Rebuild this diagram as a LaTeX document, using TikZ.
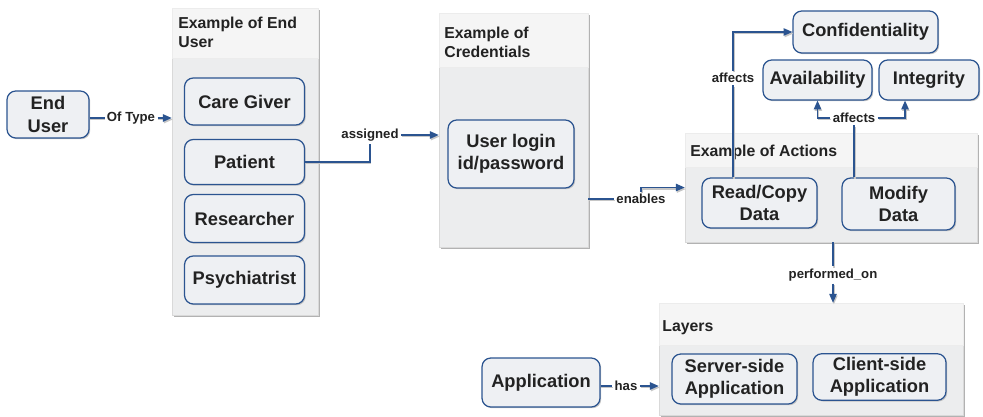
\documentclass[tikz,border=0pt]{standalone}
\usepackage{fontspec}
\setmainfont{Liberation Sans}
\usetikzlibrary{arrows.meta, positioning, fit, shadows, calc}

\definecolor{linkblue}{HTML}{2B5490}
\definecolor{boxfill}{HTML}{EEF0F3}
\definecolor{grpfill}{HTML}{ECEDEE}
\definecolor{headfill}{HTML}{F5F5F5}
\definecolor{textdark}{HTML}{222222}

\newcommand{\nodefont}{\fontsize{10.4}{12.8}\selectfont\bfseries}
\newcommand{\grpheadfont}{\fontsize{9}{10.8}\selectfont\bfseries}
\newcommand{\lblfont}{\fontsize{7.5}{9}\selectfont\bfseries}

\begin{document}
\begin{tikzpicture}[x=0.02cm, y=-0.02cm,
  box/.style={draw=linkblue, line width=0.7pt, rounded corners=5pt, fill=boxfill,
              align=center, font=\nodefont, text=textdark, inner sep=2pt,
              drop shadow={shadow xshift=0.7pt, shadow yshift=-0.7pt, fill=gray!55, opacity=0.8}},
  grp/.style={fill=grpfill, draw=gray!30, line width=0.3pt, inner sep=0pt,
              drop shadow={shadow xshift=1.2pt, shadow yshift=-1.2pt, fill=gray!60, opacity=1}},
  grphead/.style={fill=headfill, draw=gray!15, line width=0.3pt, inner sep=0pt},
  headtxt/.style={anchor=north west, align=left, inner sep=0pt, font=\grpheadfont, text=textdark},
  lbl/.style={fill=white, inner sep=1.2pt, font=\lblfont, text=textdark},
  link/.style={draw=linkblue, line width=0.7pt,
               preaction={draw=gray!45, line width=0.7pt, transform canvas={shift={(0.5pt,-0.9pt)}}}},
  arr/.style={-{Triangle[length=5pt, width=4.2pt]}},
]
  \useasboundingbox (0,0) rectangle (983,416);

  % groups
  \node[grp, fit={(172,8) (318,315)}] (gend) {};
  \node[grphead, fit={(172,8) (318,58)}] (gendhd) {};
  \node[headtxt] (gendtxt) at (178,17) {Example of End\\User};

  \node[grp, fit={(439,13) (588,247)}] (gcred) {};
  \node[grphead, fit={(439,13) (588,67)}] (gcredhd) {};
  \node[headtxt] (gcredtxt) at (444,27) {Example of\\Credentials};

  \node[grp, fit={(685,133) (977,242)}] (gact) {};
  \node[grphead, fit={(685,133) (977,167)}] (gacthd) {};
  \node[headtxt] (gacttxt) at (690,145) {Example of Actions};

  \node[grp, fit={(659,303) (963,415)}] (glay) {};
  \node[grphead, fit={(659,303) (963,345)}] (glayhd) {};
  \node[headtxt] (glaytxt) at (662,320) {Layers};

  % boxes
  \node[box, minimum width=1.64cm, minimum height=0.94cm] (enduser) at (48,114.5) {End\\User};
  \node[box, minimum width=2.4cm, minimum height=0.94cm] (care) at (244.5,101.5) {Care Giver};
  \node[box, minimum width=2.4cm, minimum height=0.9cm] (patient) at (244.5,162) {Patient};
  \node[box, minimum width=2.4cm, minimum height=0.96cm] (research) at (244.5,218.5) {Researcher};
  \node[box, minimum width=2.4cm, minimum height=0.96cm] (psych) at (244.5,280) {Psychiatrist};
  \node[box, minimum width=2.52cm, minimum height=1.36cm] (login) at (511,154) {User login\\id/password};
  \node[box, minimum width=2.3cm, minimum height=1.0cm] (readcopy) at (759.5,203) {Read/Copy\\Data};
  \node[box, minimum width=2.26cm, minimum height=1.04cm] (modify) at (898.5,204) {Modify\\Data};
  \node[box, minimum width=2.9cm, minimum height=0.84cm] (confid) at (865.5,32) {Confidentiality};
  \node[box, minimum width=2.18cm, minimum height=0.8cm] (avail) at (817.5,80) {Availability};
  \node[box, minimum width=2.0cm, minimum height=0.8cm] (integ) at (929,80) {Integrity};
  \node[box, minimum width=2.5cm, minimum height=1.0cm] (server) at (734.5,379) {Server-side\\Application};
  \node[box, minimum width=2.66cm, minimum height=0.92cm] (client) at (879.5,377) {Client-side\\Application};
  \node[box, minimum width=2.36cm, minimum height=0.98cm] (app) at (541,382.5) {Application};

  % connector labels
  \node[lbl] (oftype) at (131,118) {Of Type};
  \node[lbl] (asg) at (370,135) {assigned};
  \node[lbl] (en) at (641,199) {enables};
  \node[lbl] (afc) at (733,78) {affects};
  \node[lbl] (afai) at (854,118) {affects};
  \node[lbl] (perf) at (833,275) {performed\_on};
  \node[lbl] (has) at (626,386) {has};

  % connectors
  \draw[link] (oftype.west -| enduser.east) -- (oftype.west);
  \draw[link, arr] (oftype.east) -- (oftype.east -| gend.west);
  \draw[link] (patient.east) -| (asg.south);
  \draw[link, arr] (asg.east) -- (asg.east -| gcred.west);
  \draw[link] (en.west -| gcred.east) -- (en.west);
  \draw[link, arr] (en.north) |- (gact.west);
  \draw[link] (afc |- readcopy.north) -- (afc.south);
  \draw[link, arr] (afc.north) |- (confid.west);
  \draw[link] (afai |- modify.north) -- (afai.south);
  \draw[link, arr] (afai.west) -| (avail.south);
  \draw[link, arr] (afai.east) -| ($(integ.south)+(-24,0)$);
  \draw[link] (perf |- gact.south) -- (perf.north);
  \draw[link, arr] (perf.south) -- (perf.south |- glay.north);
  \draw[link] (has.west -| app.east) -- (has.west);
  \draw[link, arr] (has.east) -- (has.east -| glay.west);
\end{tikzpicture}
\end{document}
